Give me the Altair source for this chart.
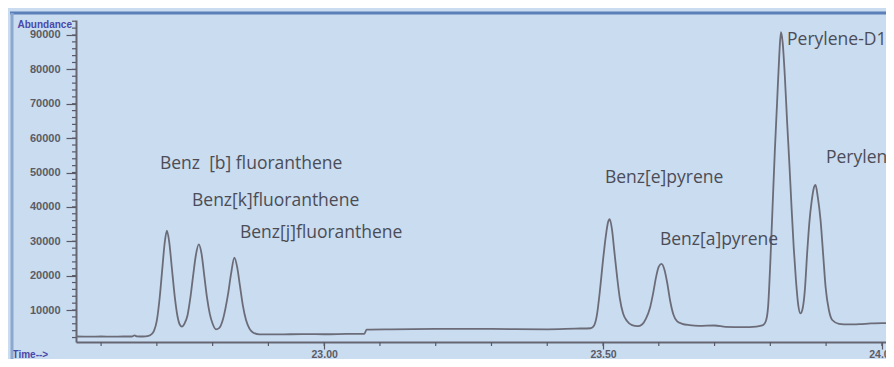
import altair as alt
import pandas as pd

# Chromatogram trace (time in min, abundance)
time_min = [
    22.555, 22.58, 22.60, 22.62, 22.64, 22.655, 22.660, 22.664, 22.675, 22.685, 22.690,
    22.695, 22.700, 22.705, 22.710, 22.714, 22.718, 22.722, 22.727, 22.732, 22.737, 22.741,
    22.745, 22.750, 22.755, 22.760, 22.765, 22.770, 22.775, 22.780, 22.785, 22.790, 22.795,
    22.800, 22.806, 22.812, 22.818, 22.823, 22.828, 22.833, 22.839, 22.844, 22.849, 22.854,
    22.860, 22.866, 22.873, 22.884, 22.92, 22.96, 23.00, 23.04, 23.072, 23.076, 23.12,
    23.20, 23.30, 23.40, 23.45, 23.478,
    23.484, 23.489, 23.494, 23.500, 23.505, 23.509, 23.512, 23.516, 23.520, 23.525, 23.530,
    23.536, 23.543, 23.552, 23.562, 23.570, 23.577, 23.584, 23.590, 23.595, 23.600, 23.605,
    23.610, 23.615, 23.620, 23.626, 23.633, 23.642, 23.655, 23.672, 23.70, 23.72, 23.75,
    23.775, 23.787, 23.792, 23.796, 23.800, 23.804, 23.808, 23.812, 23.816, 23.819, 23.822,
    23.826, 23.830, 23.834, 23.838, 23.842, 23.846, 23.850, 23.854, 23.858, 23.862, 23.866,
    23.870, 23.874, 23.878, 23.881, 23.885, 23.890, 23.895, 23.899, 23.905, 23.911, 23.923,
    23.94, 23.96, 23.98, 24.00, 24.02,
]
abundance = [
    2300, 2250, 2300, 2250, 2300, 2300, 2600, 2350, 2300, 2500, 2900,
    4000, 7000, 13500, 22500, 29500, 33100, 30000, 22000, 14000, 8200, 5800,
    5200, 6200, 8500, 13500, 20000, 26000, 29100, 26500, 20000, 13500, 8800,
    6000, 4400, 4800, 7000, 10500, 15000, 20500, 25200, 22500, 17000, 11500,
    7000, 4600, 3400, 2900, 2900, 3000, 2950, 3050, 3100, 4300, 4400,
    4500, 4500, 4400, 4600, 4700,
    5500, 8500, 15000, 24500, 31500, 35500, 36400, 33500, 27500, 20000, 13500,
    9000, 6800, 5600, 5300, 5800, 7500, 10500, 15000, 19500, 22600, 23400,
    21800, 18000, 13000, 8800, 6700, 6000, 5600, 5400, 5500, 5100, 5000,
    5200, 5600, 6800, 11000, 24000, 40000, 56000, 70000, 84000, 90800, 88000,
    78000, 65000, 53000, 40000, 28000, 18500, 11500, 9000, 10500, 16000, 26500,
    35500, 41500, 45500, 46400, 43000, 36200, 25500, 16800, 10000, 7100, 6000,
    5800, 5900, 6100, 6200, 6200,
]

# Peak annotations (anchor at left edge of the text)
label_text = [
    "Benz\u00a0 [b] fluoranthene", "Benz[k]fluoranthene", "Benz[j]fluoranthene",
    "Benz[e]pyrene", "Benz[a]pyrene", "Perylene-D12", "Perylene",
]
label_time = [22.7056, 22.763, 22.849, 23.5035, 23.602, 23.830, 23.8998]
label_abund = [52470, 41707, 32398, 48398, 30362, 88542, 54216]

# Axis ticks
x_major = [23.0, 23.5, 24.0]
x_minor = [22.6, 22.7, 22.8, 22.9, 23.0, 23.1, 23.2, 23.3, 23.4, 23.5,
           23.6, 23.7, 23.8, 23.9, 24.0]
y_major = [10000, 20000, 30000, 40000, 50000, 60000, 70000, 80000, 90000]
y_minor = list(range(2000, 94001, 2000))

trace = pd.DataFrame({"time": time_min, "abundance": abundance})
labels = pd.DataFrame({"label": label_text, "time": label_time, "abundance": label_abund})
xmin_df = pd.DataFrame({"time": x_minor})
ymin_df = pd.DataFrame({"abundance": y_minor})

X_DOMAIN = [22.555, 24.0074]
Y_DOMAIN = [700, 94360]
PLOT_H = 322

tick_col = "#5a5a66"
lab_col = "#5b5b66"
title_col = "#4a48a8"

x_axis = alt.Axis(
    values=x_major, format=".2f",
    tickSize=7, tickColor=tick_col, tickWidth=1.2,
    domainColor="#666672", domainWidth=2,
    labelFont="Liberation Sans", labelFontSize=10.5, labelFontWeight="bold",
    labelColor=lab_col, labelPadding=0, labelOverlap=False, labelFlush=False,
    grid=False,
    title="Time-->", titleX=-64, titleY=12, titleAlign="left", titleBaseline="middle",
    titleFont="Liberation Sans", titleFontSize=10, titleFontWeight="bold", titleColor=title_col,
)
y_axis = alt.Axis(
    values=y_major, format="d",
    tickSize=10, tickColor=tick_col, tickWidth=1.2,
    domainColor="#666672", domainWidth=2,
    labelFont="Liberation Sans", labelFontSize=11, labelFontWeight="bold",
    labelColor=lab_col, labelPadding=6, labelOverlap=False, labelFlush=False,
    grid=False,
    title="Abundance", titleAngle=0, titleX=-59, titleY=-1, titleAlign="left",
    titleBaseline="top",
    titleFont="Liberation Sans", titleFontSize=10, titleFontWeight="bold", titleColor=title_col,
)

xs = alt.Scale(domain=X_DOMAIN, nice=False, zero=False)
ys = alt.Scale(domain=Y_DOMAIN, nice=False, zero=False)

line = alt.Chart(trace).mark_line(
    color="#6c6c78", strokeWidth=1.8, interpolate="monotone", clip=True
).encode(
    x=alt.X("time:Q", scale=xs, axis=x_axis),
    y=alt.Y("abundance:Q", scale=ys, axis=y_axis),
)

text = alt.Chart(labels).mark_text(
    align="left", baseline="middle", font="Open Sans", fontSize=17.5, color="#4c4c56"
).encode(
    x="time:Q", y="abundance:Q", text="label:N"
)

x_minor_ticks = alt.Chart(xmin_df).mark_rule(color=tick_col, strokeWidth=1.2).encode(
    x="time:Q", y=alt.value(PLOT_H), y2=alt.value(PLOT_H + 4)
)
y_minor_ticks = alt.Chart(ymin_df).mark_rule(color=tick_col, strokeWidth=1.2).encode(
    y="abundance:Q", x=alt.value(-4), x2=alt.value(0)
)

deco = pd.DataFrame({"k": [0]})
top_border = alt.Chart(deco).mark_rule(color="#5b7fb8", strokeWidth=3).encode(
    x=alt.value(-66), x2=alt.value(830), y=alt.value(-7)
)
left_border = alt.Chart(deco).mark_rule(color="#8ca8cf", strokeWidth=3).encode(
    x=alt.value(-64), y=alt.value(-7), y2=alt.value(345)
)

chart = alt.layer(
    line, text, x_minor_ticks, y_minor_ticks, top_border, left_border
).properties(
    width=810, height=PLOT_H,
    autosize=alt.AutoSizeParams(type="none"),
    padding={"left": 68, "top": 12, "right": 0, "bottom": 17},
    background="#c9dcf0",
).configure_view(stroke=None)

chart.save("out.html", embed_options={"renderer": "svg", "actions": False})
